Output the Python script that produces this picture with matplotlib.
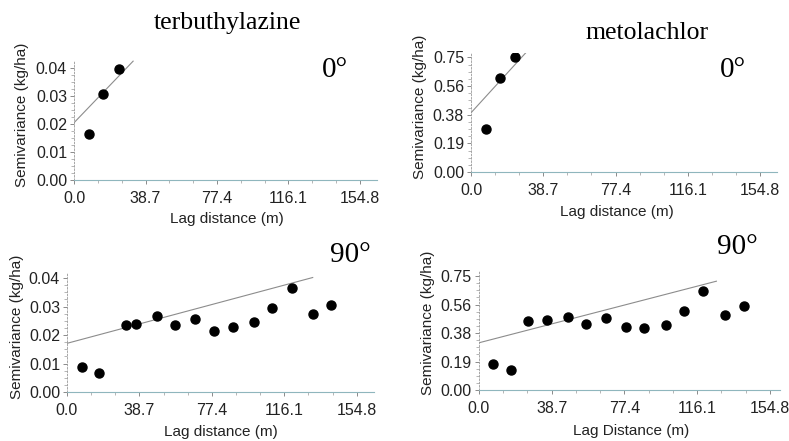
import numpy as np
import matplotlib
matplotlib.use("Agg")
import matplotlib.pyplot as plt

# semivariogramas direccionales (0 y 90 grados)

lag_ticks = [0.0, 38.7, 77.4, 116.1, 154.8]
lag_labels = ["0.0", "38.7", "77.4", "116.1", "154.8"]

terb_ticks = [0.00, 0.01, 0.02, 0.03, 0.04]
terb_labels = ["0.00", "0.01", "0.02", "0.03", "0.04"]
meto_ticks = [0.0, 0.1875, 0.375, 0.5625, 0.75]
meto_labels = ["0.00", "0.19", "0.38", "0.56", "0.75"]

# terbuthylazine 0
terb0_lag = [8.1, 15.7, 24.4]
terb0_gam = [0.0164, 0.0307, 0.0396]
terb0_fit = [0.0205, 0.00069]   # intercepto, pendiente
terb0_end = 32.0

# metolachlor 0
meto0_lag = [8.0, 15.5, 23.6]
meto0_gam = [0.283, 0.618, 0.750]
meto0_fit = [0.388, 0.0134]
meto0_end = 30.0

# terbuthylazine 90
terb90_lag = [7.8, 17.2, 31.5, 36.8, 47.9, 57.5, 68.5, 78.7, 88.5, 100.0, 109.8, 120.1, 131.2, 141.3]
terb90_gam = [0.0089, 0.0066, 0.0234, 0.0239, 0.0267, 0.0234, 0.0255, 0.0213, 0.0227, 0.0245,
              0.0295, 0.0365, 0.0275, 0.0304]
terb90_fit = [0.0171, 0.000176]
terb90_end = 131.3

# metolachlor 90
meto90_lag = [7.6, 17.0, 25.9, 36.3, 47.2, 56.9, 67.4, 78.2, 87.8, 99.5, 109.2, 119.5, 131.0, 140.9]
meto90_gam = [0.171, 0.132, 0.456, 0.461, 0.482, 0.436, 0.476, 0.412, 0.406, 0.428,
              0.520, 0.649, 0.495, 0.553]
meto90_fit = [0.311, 0.00321]
meto90_end = 126.4

plt.rcParams['font.family'] = ['Liberation Sans', 'DejaVu Sans']

fig = plt.figure(figsize=(7.89, 4.41), dpi=100)


def panel(rect, lag, gam, fit, xend, xmax, ymax, yticks, ylabels):
	ax = fig.add_axes(rect)
	x0 = np.linspace(0, xend, 50)
	ax.plot(x0, fit[0] + fit[1]*x0, color="#8c8c8c", lw=0.8)
	ax.plot(lag, gam, 'o', color="black", ms=6.5)
	ax.set_xlim(0, xmax)
	ax.set_ylim(0, ymax)
	ax.set_xticks(lag_ticks)
	ax.set_xticklabels(lag_labels)
	ax.set_yticks(yticks)
	ax.set_yticklabels(ylabels)
	ax.set_xticks(np.arange(0, xmax, 38.7/3), minor=True)
	ax.set_yticks(np.linspace(0, yticks[-1], 17), minor=True)
	for s in ["top", "right"]:
		ax.spines[s].set_visible(False)
	ax.spines["left"].set_color("#999999")
	ax.spines["left"].set_linewidth(0.6)
	ax.spines["left"].set_linestyle((0, (2, 2)))
	ax.spines["bottom"].set_color("#8fb6bd")
	ax.spines["bottom"].set_linewidth(0.8)
	ax.tick_params(which="major", length=3, width=0.6, color="#777777", labelsize=11.5, pad=2,
	               labelcolor="#222222")
	ax.tick_params(axis="x", which="major", pad=5)
	ax.tick_params(which="minor", length=2, width=0.5, color="#999999")
	ax.patch.set_alpha(0)
	return ax


panel([0.0938, 0.592, 0.384, 0.272], terb0_lag, terb0_gam, terb0_fit, terb0_end, 164, 0.043,
      terb_ticks, terb_labels)
panel([0.597, 0.61, 0.388, 0.27], meto0_lag, meto0_gam, meto0_fit, meto0_end, 164, 0.78,
      meto_ticks, meto_labels)
panel([0.0849, 0.111, 0.389, 0.27], terb90_lag, terb90_gam, terb90_fit, terb90_end, 164, 0.0418,
      terb_ticks, terb_labels)
panel([0.607, 0.1156, 0.381, 0.272], meto90_lag, meto90_gam, meto90_fit, meto90_end, 160, 0.79,
      meto_ticks, meto_labels)

serif = ['Liberation Serif', 'DejaVu Serif']
fig.text(0.288, 0.948, "terbuthylazine", family=serif, fontsize=18.5, ha="center", va="center")
fig.text(0.82, 0.925, "metolachlor", family=serif, fontsize=18.5, ha="center", va="center")
fig.text(0.425, 0.841, "0°", family=serif, fontsize=21, ha="center", va="center")
fig.text(0.929, 0.841, "0°", family=serif, fontsize=21, ha="center", va="center")
fig.text(0.444, 0.422, "90°", family=serif, fontsize=21, ha="center", va="center")
fig.text(0.935, 0.44, "90°", family=serif, fontsize=21, ha="center", va="center")

# etiquetas de los ejes
lab = dict(fontsize=11, ha="center", va="center", color="#222222")
fig.text(227/789, 1-219/441, "Lag distance (m)", **lab)
fig.text(617/789, 1-212/441, "Lag distance (m)", **lab)
fig.text(221/789, 1-432/441, "Lag distance (m)", **lab)
fig.text(631/789, 1-431/441, "Lag Distance (m)", **lab)
for xp, yp in [(22, 115), (420, 107), (17, 327), (428, 323)]:
	fig.text(xp/789, 1-yp/441, "Semivariance (kg/ha)", rotation=90, **lab)

fig.savefig("out.png", dpi=100)
